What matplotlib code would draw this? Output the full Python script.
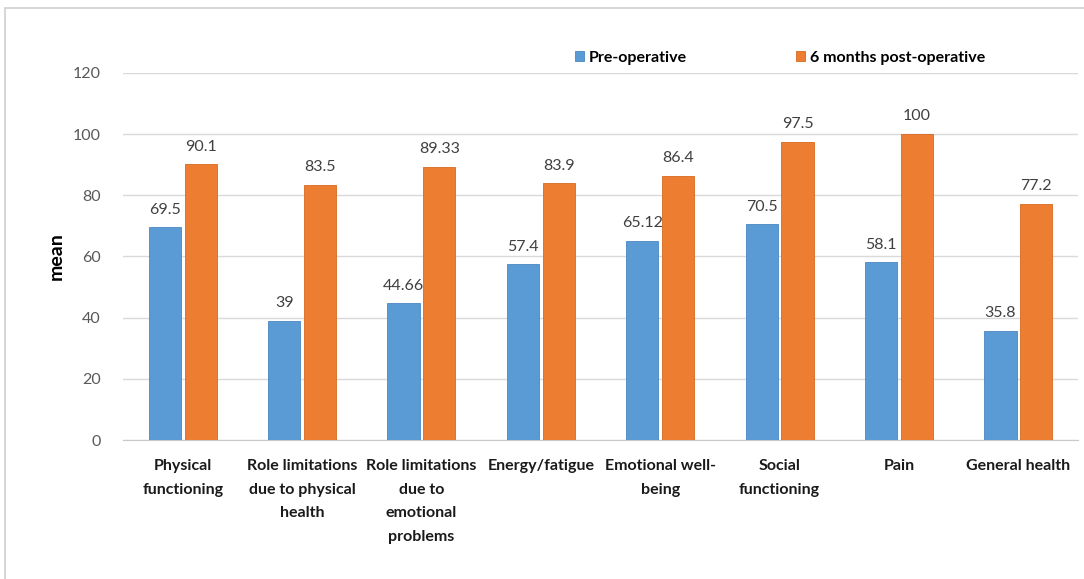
import numpy as np
import matplotlib.pyplot as plt
from matplotlib.patches import Rectangle

plt.rcParams['font.family'] = ['Lato', 'DejaVu Sans']

# SF-36 domain scores
domains = ["Physical\nfunctioning", "Role limitations\ndue to physical\nhealth",
           "Role limitations\ndue to\nemotional\nproblems", "Energy/fatigue",
           "Emotional well-\nbeing", "Social\nfunctioning", "Pain", "General health"]
pre_op = [69.5, 39, 44.66, 57.4, 65.12, 70.5, 58.1, 35.8]
post_op = [90.1, 83.5, 89.33, 83.9, 86.4, 97.5, 100, 77.2]
pre_labels = ["69.5", "39", "44.66", "57.4", "65.12", "70.5", "58.1", "35.8"]
post_labels = ["90.1", "83.5", "89.33", "83.9", "86.4", "97.5", "100", "77.2"]

blue = "#5B9BD5"
orange = "#ED7D31"

fig = plt.figure(figsize=(10.84, 5.79), dpi=100)
ax = fig.add_axes([0.1135, 0.240, 0.881, 0.634])

# outer chart border
fig.patches.append(Rectangle((0.005, -0.02), 1.2, 1.006, transform=fig.transFigure,
                             fill=False, edgecolor="#d0d0d0", linewidth=1.2))

x = np.arange(len(domains))
w = 0.27
gap = 0.015
b1 = ax.bar(x - w / 2 - gap, pre_op, w, color=blue, edgecolor="#4a86c0", linewidth=0.6,
            label="Pre-operative", zorder=3)
b2 = ax.bar(x + w / 2 + gap, post_op, w, color=orange, edgecolor="#d86a20", linewidth=0.6,
            label="6 months post-operative", zorder=3)

for bars, labs in ((b1, pre_labels), (b2, post_labels)):
    for bar, lab in zip(bars, labs):
        ax.text(bar.get_x() + bar.get_width() / 2, bar.get_height() + 3.5, lab,
                ha="center", va="bottom", fontsize=11.5, color="#404040")

ax.set_xlim(-0.5, len(domains) - 0.5)
ax.set_ylim(0, 120)
ax.set_yticks(range(0, 121, 20))
ax.grid(axis="y", color="#d9d9d9", linewidth=1, zorder=0)
for s in ["top", "right", "left"]:
    ax.spines[s].set_visible(False)
ax.spines["bottom"].set_color("#c8c8c8")
ax.tick_params(axis="y", length=0, pad=16, labelsize=11.5, labelcolor="#595959")
ax.tick_params(axis="x", length=0, pad=14)
ax.set_xticks(x)
ax.set_xticklabels(domains, fontsize=11.5, fontweight="bold", color="#1a1a1a",
                   linespacing=1.85)
ax.set_ylabel("mean", fontsize=14, fontweight="bold")
ax.yaxis.set_label_coords(-0.061, 0.5)

ax.legend(loc="upper left", bbox_to_anchor=(0.458, 1.10), ncol=2, frameon=False,
          prop={"weight": "bold", "size": 11.5}, handlelength=0.6,
          handleheight=0.6, handletextpad=0.3, columnspacing=6.8)

fig.savefig("out.png", dpi=100)
